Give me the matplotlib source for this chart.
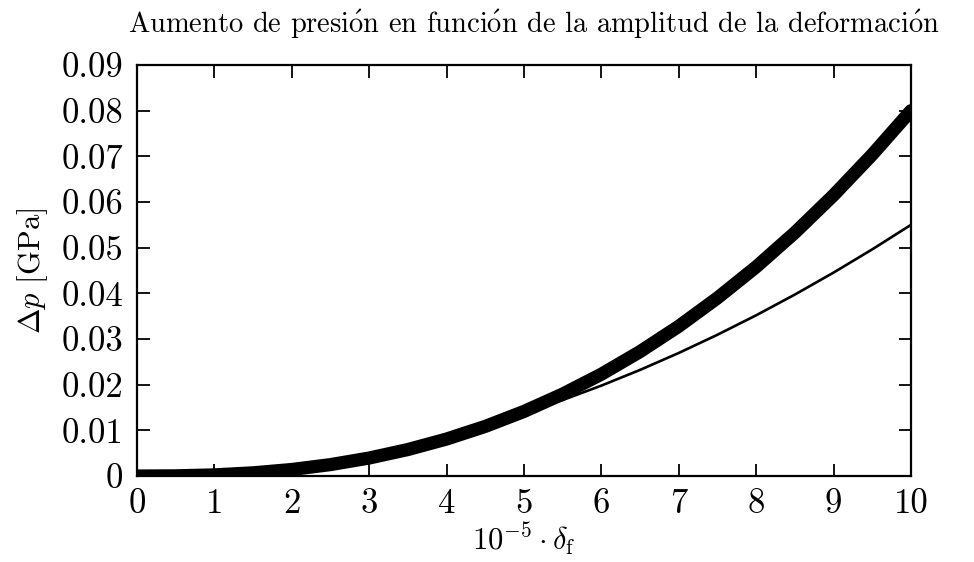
import matplotlib
matplotlib.use("Agg")
import matplotlib.pyplot as plt

# Data
deform = [0, 0.5, 1, 1.5, 2, 2.5, 3, 3.5, 4, 4.5, 5,
          5.5, 6, 6.5, 7, 7.5, 8, 8.5, 9, 9.5, 10]
dp_full = [0, 0.00004, 0.00025, 0.0007, 0.00143, 0.0025, 0.00394, 0.0058,
           0.0081, 0.01087, 0.01414, 0.01795, 0.0223, 0.02725, 0.0328,
           0.039, 0.0458, 0.0533, 0.0615, 0.0704, 0.08]
dp_approx = [0, 0.00014, 0.00055, 0.00124, 0.0022, 0.00344, 0.00495, 0.00674,
             0.0088, 0.01114, 0.01375, 0.01664, 0.0198, 0.02324, 0.02695,
             0.03094, 0.0352, 0.03974, 0.04455, 0.04964, 0.055]

x_ticks = [0, 1, 2, 3, 4, 5, 6, 7, 8, 9, 10]
y_ticks = [0, 0.01, 0.02, 0.03, 0.04, 0.05, 0.06, 0.07, 0.08, 0.09]
y_labels = ["0", "0.01", "0.02", "0.03", "0.04", "0.05", "0.06", "0.07", "0.08", "0.09"]

plt.rcParams["font.family"] = ["cmr10", "DejaVu Serif"]
plt.rcParams["mathtext.fontset"] = "cm"
plt.rcParams["axes.formatter.use_mathtext"] = True

# cmr10 has no accented vowels, so the acute goes through mathtext
o_acute = r"$\acute{\mathrm{o}}$"
title = ("Aumento de presi" + o_acute + "n en funci" + o_acute
         + "n de la amplitud de la deformaci" + o_acute + "n")

fig = plt.figure(figsize=(9.74, 5.62), dpi=100)
ax = fig.add_axes([0.1407, 0.153, 0.7946, 0.7313])

ax.plot(deform, dp_full, color="black", lw=9.5, solid_capstyle="round",
        solid_joinstyle="round", zorder=3)
ax.plot(deform, dp_approx, color="black", lw=1.9, zorder=2)

ax.set_xlim(0, 10)
ax.set_ylim(0, 0.09)
ax.set_xticks(x_ticks)
ax.set_xticklabels([str(t) for t in x_ticks])
ax.set_yticks(y_ticks)
ax.set_yticklabels(y_labels)

ax.tick_params(direction="in", length=9, width=1.3, top=True, right=True,
               labelsize=25)
ax.tick_params(axis="x", pad=9)
ax.tick_params(axis="y", pad=10)
for s in ax.spines.values():
    s.set_linewidth(1.6)

ax.set_title(title, fontsize=20.5, pad=23, x=0.513)
ax.set_xlabel(r"$10^{-5}\cdot\delta_{\mathrm{f}}$", fontsize=22, labelpad=0)
ax.set_ylabel(r"$\Delta p$ [GPa]", fontsize=22, labelpad=8)

fig.savefig("out.png", dpi=100)
